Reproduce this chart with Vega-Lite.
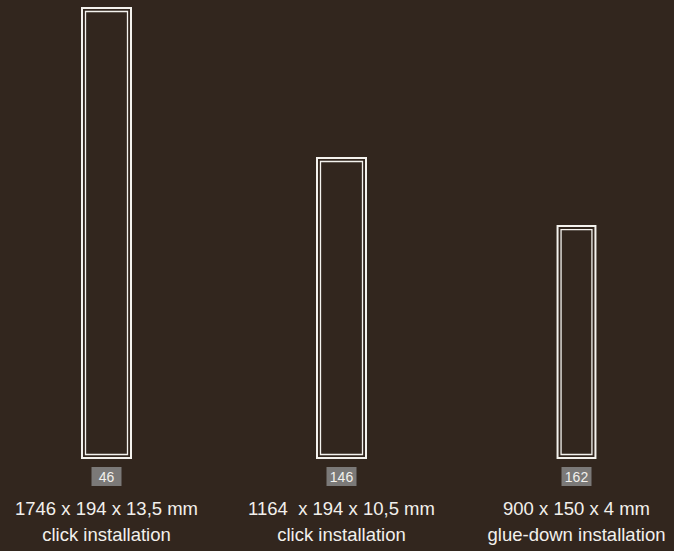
{
  "$schema": "https://vega.github.io/schema/vega-lite/v6.json",
  "width": 674,
  "height": 551,
  "autosize": {"type": "none"},
  "padding": 0,
  "background": "#32261e",
  "config": {"view": {"stroke": null}, "font": "Liberation Sans"},
  "data": {
    "values": [
      {"name": "46", "length": 1746, "width": 194, "dims": "1746 x 194 x 13,5 mm", "install": "click installation"},
      {"name": "146", "length": 1164, "width": 194, "dims": "1164\u00a0 x 194 x 10,5 mm", "install": "click installation"},
      {"name": "162", "length": 900, "width": 150, "dims": "900 x 150 x 4 mm", "install": "glue-down installation"}
    ]
  },
  "encoding": {
    "x": {"field": "name", "type": "ordinal", "sort": null, "axis": null,
      "scale": {"type": "point", "range": [106.5, 576.5], "padding": 0}}
  },
  "layer": [
    {
      "mark": {"type": "bar", "fillOpacity": 0, "stroke": "#f4f2ee", "strokeWidth": 2},
      "encoding": {
        "y": {"field": "length", "type": "quantitative", "axis": null,
          "scale": {"domain": [0, 1746], "range": [458, 8], "nice": false}},
        "y2": {"datum": 0},
        "size": {"field": "width", "type": "quantitative", "legend": null,
          "scale": {"domain": [0, 194], "range": [0, 49], "zero": true, "nice": false}}
      }
    },
    {
      "mark": {"type": "bar", "fillOpacity": 0, "stroke": "#f4f2ee", "strokeWidth": 1.3, "yOffset": 3.5, "y2Offset": -3.5},
      "encoding": {
        "y": {"field": "length", "type": "quantitative", "axis": null},
        "y2": {"datum": 0},
        "size": {"field": "width", "type": "quantitative", "legend": null,
          "scale": {"domain": [0, 194], "range": [-7, 42], "zero": false, "nice": false}}
      }
    },
    {
      "mark": {"type": "point", "filled": true, "opacity": 1, "color": "#7b7978", "strokeWidth": 0,
        "shape": "M-1,-0.633H1V0.633H-1Z", "size": 900, "yOffset": 18.5},
      "encoding": {"y": {"datum": 0, "type": "quantitative"}}
    },
    {
      "mark": {"type": "text", "color": "#f2f0ec", "fontSize": 14, "baseline": "alphabetic", "dy": 24},
      "encoding": {"y": {"datum": 0, "type": "quantitative"}, "text": {"field": "name"}}
    },
    {
      "mark": {"type": "text", "color": "#f2f0ec", "fontSize": 18.5, "baseline": "alphabetic", "dy": 57},
      "encoding": {"y": {"datum": 0, "type": "quantitative"}, "text": {"field": "dims"}}
    },
    {
      "mark": {"type": "text", "color": "#f2f0ec", "fontSize": 18.5, "baseline": "alphabetic", "dy": 83},
      "encoding": {"y": {"datum": 0, "type": "quantitative"}, "text": {"field": "install"}}
    }
  ],
  "resolve": {"scale": {"size": "independent"}}
}
